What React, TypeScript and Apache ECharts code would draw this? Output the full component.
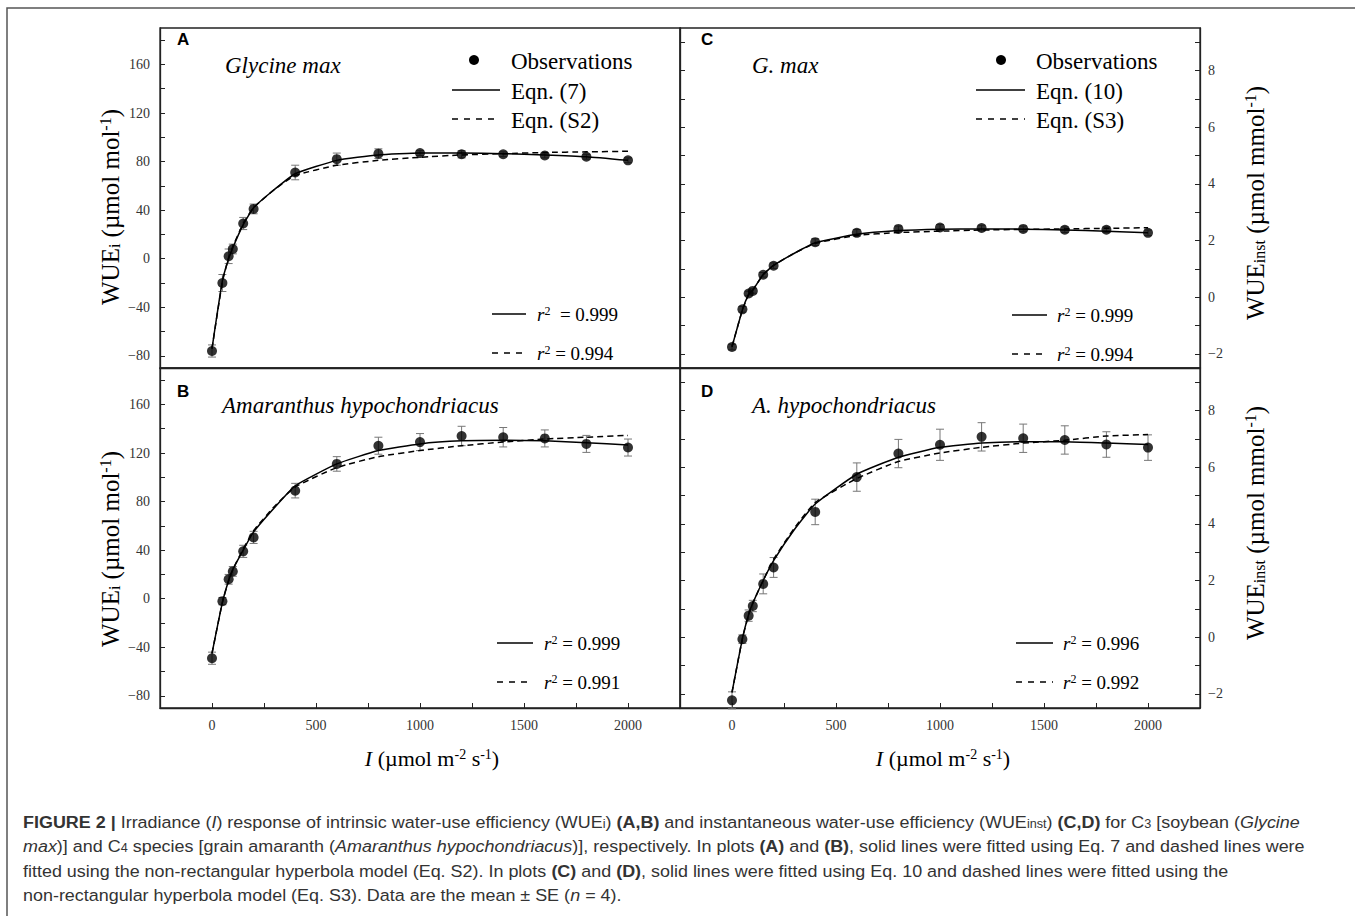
import React, { useEffect, useRef } from "react";
import * as echarts from "echarts";

// ---------- data ----------
const irradiance = [0, 50, 80, 100, 150, 200, 400, 600, 800, 1000, 1200, 1400, 1600, 1800, 2000];
const fitIrradiance = [0, 50, 80, 100, 150, 200, 300, 400, 600, 800, 1000, 1200, 1400, 1600, 1800, 2000];

// Panel A: WUEi, Glycine max
const obsA = [-76, -20, 2, 8, 29, 41, 71, 82, 86.5, 87, 86, 86, 85, 84, 81];
const seA = [5, 7, 6, 4, 5, 4, 6, 5, 4, 2, 3, 2, 2, 2, 2];
const eq7A = [-74, -18, 0, 9, 28, 42, 57, 70, 81, 85.5, 87, 87, 86.5, 85.5, 84, 81];
const s2A = [-74, -19, 1, 10, 29, 42, 57, 68.5, 77, 81, 83.5, 85.5, 86.5, 87.5, 88, 88.5];

// Panel B: WUEi, Amaranthus hypochondriacus
const obsB = [-49, -2, 16, 22.5, 39, 50.5, 89, 111, 126, 129, 134, 133, 132, 127.5, 124.5];
const seB = [5, 3, 4, 4, 5, 5, 6, 6, 7, 7, 8, 8, 7, 7, 7];
const eq7B = [-45, -3, 15, 24, 40, 55, 75, 93, 111, 122, 127.5, 130, 130.5, 130, 128.5, 126.5];
const s2B = [-45, -3, 15, 24, 41, 56, 76, 92, 108, 117, 122, 126, 129, 131.5, 133, 134.5];

// Panel C: WUEinst, G. max
const obsC = [-1.76, -0.43, 0.13, 0.22, 0.79, 1.11, 1.94, 2.27, 2.41, 2.46, 2.44, 2.41, 2.38, 2.38, 2.27];
const seC = [0.1, 0.1, 0.08, 0.08, 0.08, 0.1, 0.12, 0.12, 0.1, 0.1, 0.1, 0.1, 0.1, 0.1, 0.1];
const eq10C = [-1.75, -0.45, 0.1, 0.25, 0.8, 1.12, 1.55, 1.92, 2.22, 2.35, 2.4, 2.41, 2.4, 2.37, 2.33, 2.27];
const s3C = [-1.75, -0.45, 0.1, 0.25, 0.8, 1.12, 1.55, 1.9, 2.18, 2.28, 2.33, 2.37, 2.39, 2.41, 2.43, 2.45];

// Panel D: WUEinst, A. hypochondriacus
const obsD = [-2.23, -0.07, 0.76, 1.1, 1.88, 2.46, 4.42, 5.65, 6.48, 6.79, 7.07, 7.02, 6.96, 6.8, 6.69];
const seD = [0.3, 0.15, 0.2, 0.2, 0.35, 0.35, 0.45, 0.5, 0.5, 0.55, 0.5, 0.5, 0.5, 0.45, 0.45];
const eq10D = [-1.95, -0.05, 0.8, 1.2, 2.0, 2.7, 3.8, 4.7, 5.75, 6.35, 6.7, 6.85, 6.9, 6.9, 6.85, 6.8];
const s3D = [-1.95, -0.05, 0.8, 1.2, 2.0, 2.75, 3.85, 4.75, 5.6, 6.2, 6.5, 6.7, 6.85, 6.95, 7.1, 7.15];

// tick values
const xTickValues = [0, 250, 500, 750, 1000, 1250, 1500, 1750, 2000];
const xLabelValues = [0, 500, 1000, 1500, 2000];
const wueiTickValues = [-80, -60, -40, -20, 0, 20, 40, 60, 80, 100, 120, 140, 160, 180];
const wueiLabelValues = [-80, -40, 0, 40, 80, 120, 160];
const wueInstTickValues = [-2, -1, 0, 1, 2, 3, 4, 5, 6, 7, 8, 9];
const wueInstLabelValues = [-2, 0, 2, 4, 6, 8];

const serif = '"Liberation Serif", "Times New Roman", serif';
const sans = '"Liberation Sans", Arial, sans-serif';
const axisColor = "#222";

function fmt(v: number) {
  return String(v).replace("-", "\u2212");
}

function xAxisDef(grid: number, showLabels: boolean) {
  return {
    type: "value",
    gridIndex: grid,
    min: -250,
    max: 2250,
    axisLine: { show: true, onZero: false, lineStyle: { color: axisColor, width: 1.3 } },
    axisTick: {
      show: showLabels,
      inside: true,
      length: 5,
      customValues: xTickValues,
      lineStyle: { color: axisColor, width: 1 },
    },
    axisLabel: {
      show: showLabels,
      customValues: xLabelValues,
      margin: 10,
      fontFamily: serif,
      fontSize: 14,
      color: "#333",
      formatter: (v: number) => String(v),
    },
    splitLine: { show: false },
  };
}

function yAxisDef(
  grid: number,
  min: number,
  max: number,
  ticks: number[],
  labels: number[],
  position: string,
  showLabels: boolean
) {
  return {
    type: "value",
    gridIndex: grid,
    min,
    max,
    position,
    axisLine: { show: true, onZero: false, lineStyle: { color: axisColor, width: 1.3 } },
    axisTick: {
      show: true,
      inside: true,
      length: 5,
      customValues: ticks,
      lineStyle: { color: axisColor, width: 1 },
    },
    axisLabel: {
      show: showLabels,
      customValues: labels,
      margin: position === "left" ? 10 : 8,
      fontFamily: serif,
      fontSize: 14,
      color: "#333",
      formatter: (v: number) => fmt(v),
    },
    splitLine: { show: false },
  };
}

function errorSeries(xi: number, yi: number, obs: number[], se: number[]) {
  return {
    type: "custom",
    xAxisIndex: xi,
    yAxisIndex: yi,
    z: 2,
    encode: { x: 0, y: 1 },
    data: irradiance.map((x, i) => [x, obs[i], se[i]]),
    renderItem: (params: any, api: any) => {
      const x = api.value(0);
      const y = api.value(1);
      const e = api.value(2);
      const top = api.coord([x, y + e]);
      const bot = api.coord([x, y - e]);
      const cap = 4;
      const st = { stroke: "#777", lineWidth: 1 };
      return {
        type: "group",
        children: [
          { type: "line", shape: { x1: top[0], y1: top[1], x2: bot[0], y2: bot[1] }, style: st },
          { type: "line", shape: { x1: top[0] - cap, y1: top[1], x2: top[0] + cap, y2: top[1] }, style: st },
          { type: "line", shape: { x1: bot[0] - cap, y1: bot[1], x2: bot[0] + cap, y2: bot[1] }, style: st },
        ],
      };
    },
  };
}

function scatterSeries(xi: number, yi: number, obs: number[]) {
  return {
    type: "scatter",
    xAxisIndex: xi,
    yAxisIndex: yi,
    z: 4,
    symbol: "circle",
    symbolSize: 10,
    itemStyle: { color: "#000" },
    data: irradiance.map((x, i) => [x, obs[i]]),
  };
}

function fitSeries(xi: number, yi: number, vals: number[], dashed: boolean) {
  return {
    type: "line",
    xAxisIndex: xi,
    yAxisIndex: yi,
    z: 3,
    showSymbol: false,
    symbol: "none",
    smooth: 0.15,
    lineStyle: { color: "#000", width: 1.5, type: dashed ? [6, 4] : "solid" },
    data: fitIrradiance.map((x, i) => [x, vals[i]]),
  };
}

// ---------- graphic helpers ----------
function txt(x: number, y: number, text: string, style: any, extra: any = {}) {
  return {
    type: "text",
    x,
    y,
    z: 10,
    ...extra,
    style: { text, fill: "#000", textVerticalAlign: "middle", ...style },
  };
}

function hline(x1: number, x2: number, y: number, dashed: boolean) {
  return {
    type: "line",
    z: 10,
    shape: { x1, y1: y, x2, y2: y },
    style: { stroke: "#000", lineWidth: 1.5, lineDash: dashed ? [6, 6] : null },
  };
}

const richSerif = (size: number) => ({
  ri: { fontFamily: serif, fontSize: size, fontStyle: "italic", fill: "#000" },
  n: { fontFamily: serif, fontSize: size, fill: "#000" },
  sup: { fontFamily: serif, fontSize: Math.round(size * 0.62), fill: "#000", verticalAlign: "top" },
  sub: { fontFamily: serif, fontSize: Math.round(size * 0.62), fill: "#000", verticalAlign: "bottom" },
});

function legendBlock(dotX: number, textX: number, lineX1: number, lineX2: number, eqLabel: string, sLabel: string) {
  const st = { fontFamily: serif, fontSize: 23 };
  return [
    { type: "circle", z: 10, shape: { cx: dotX, cy: 60, r: 5 }, style: { fill: "#000" } },
    txt(textX, 61, "Observations", st),
    hline(lineX1, lineX2, 90, false),
    txt(textX, 91, eqLabel, st),
    hline(lineX1, lineX2, 119, true),
    txt(textX, 120, sLabel, st),
  ];
}

function r2Block(lineX1: number, lineX2: number, textX: number, y1: number, y2: number, v1: string, v2: string, gap1 = " ") {
  const st = { fontFamily: serif, fontSize: 19, rich: richSerif(19) };
  return [
    hline(lineX1, lineX2, y1, false),
    txt(textX, y1, `{ri|r}{sup|2}{n|${gap1}= ${v1}}`, st),
    hline(lineX1, lineX2, y2, true),
    txt(textX, y2, `{ri|r}{sup|2}{n| = ${v2}}`, st),
  ];
}

const panelLetter = (x: number, y: number, l: string) =>
  txt(x, y, l, { fontFamily: sans, fontSize: 17, fontWeight: "bold" });
const species = (x: number, y: number, s: string) =>
  txt(x, y, s, { fontFamily: serif, fontSize: 23, fontStyle: "italic" });

const yTitleRich = richSerif(25);
const wueiTitle = "{n|WUE}{sub|i}{n| (\u00b5mol mol}{sup|-1}{n|)}";
const wueInstTitle = "{n|WUE}{sub|inst}{n| (\u00b5mol mmol}{sup|-1}{n|)}";
const xTitle = "{ri|I}{n| (\u00b5mol m}{sup|-2}{n| s}{sup|-1}{n|)}";

const capSize = 17;
const capRich = {
  b: { fontFamily: sans, fontSize: capSize, fontWeight: "bold", fill: "#333" },
  i: { fontFamily: sans, fontSize: capSize, fontStyle: "italic", fill: "#333" },
  sub: { fontFamily: sans, fontSize: 12, fill: "#333", verticalAlign: "bottom" },
};
const captionLines = [
  "{b|FIGURE 2 |} Irradiance ({i|I}) response of intrinsic water-use efficiency (WUE{sub|i}) {b|(A,B)} and instantaneous water-use efficiency (WUE{sub|inst}) {b|(C,D)} for C{sub|3} [soybean ({i|Glycine}",
  "{i|max})] and C{sub|4} species [grain amaranth ({i|Amaranthus hypochondriacus})], respectively. In plots {b|(A)} and {b|(B)}, solid lines were fitted using Eq. 7 and dashed lines were",
  "fitted using the non-rectangular hyperbola model (Eq. S2). In plots {b|(C)} and {b|(D)}, solid lines were fitted using Eq. 10 and dashed lines were fitted using the",
  "non-rectangular hyperbola model (Eq. S3). Data are the mean \u00b1 SE ({i|n} = 4).",
];
const captionY = [822, 846, 871, 895];

export default function App() {
  const ref = useRef<HTMLDivElement>(null);
  useEffect(() => {
    if (!ref.current) return;
    const chart = echarts.init(ref.current, undefined, { renderer: "svg" });
    const gridStyle = { show: true, borderColor: axisColor, borderWidth: 1.3, backgroundColor: "transparent" };
    const option: any = {
      animation: false,
      backgroundColor: "#fff",
      grid: [
        { left: 160, top: 28, width: 520, height: 340, ...gridStyle },
        { left: 160, top: 368, width: 520, height: 340, ...gridStyle },
        { left: 680, top: 28, width: 520, height: 340, ...gridStyle },
        { left: 680, top: 368, width: 520, height: 340, ...gridStyle },
      ],
      xAxis: [xAxisDef(0, false), xAxisDef(1, true), xAxisDef(2, false), xAxisDef(3, true)],
      yAxis: [
        yAxisDef(0, -90, 190, wueiTickValues, wueiLabelValues, "left", true),
        yAxisDef(1, -90, 190, wueiTickValues, wueiLabelValues, "left", true),
        yAxisDef(2, -2.5, 9.5, wueInstTickValues, wueInstLabelValues, "right", true),
        yAxisDef(3, -2.5, 9.5, wueInstTickValues, wueInstLabelValues, "right", true),
        yAxisDef(2, -2.5, 9.5, wueInstTickValues, wueInstLabelValues, "left", false),
        yAxisDef(3, -2.5, 9.5, wueInstTickValues, wueInstLabelValues, "left", false),
      ],
      series: [
        errorSeries(0, 0, obsA, seA),
        fitSeries(0, 0, eq7A, false),
        fitSeries(0, 0, s2A, true),
        scatterSeries(0, 0, obsA),
        errorSeries(1, 1, obsB, seB),
        fitSeries(1, 1, eq7B, false),
        fitSeries(1, 1, s2B, true),
        scatterSeries(1, 1, obsB),
        errorSeries(2, 2, obsC, seC),
        fitSeries(2, 2, eq10C, false),
        fitSeries(2, 2, s3C, true),
        scatterSeries(2, 2, obsC),
        errorSeries(3, 3, obsD, seD),
        fitSeries(3, 3, eq10D, false),
        fitSeries(3, 3, s3D, true),
        scatterSeries(3, 3, obsD),
      ],
      graphic: [
        {
          type: "rect",
          z: 0,
          shape: { x: 7, y: 8, width: 1370, height: 930 },
          style: { fill: "none", stroke: "#555", lineWidth: 1.5 },
        },
        panelLetter(177, 39, "A"),
        panelLetter(701, 39, "C"),
        panelLetter(177, 391, "B"),
        panelLetter(701, 391, "D"),
        species(225, 65, "Glycine max"),
        species(752, 65, "G. max"),
        species(222, 405, "Amaranthus hypochondriacus"),
        species(752, 405, "A. hypochondriacus"),
        ...legendBlock(474, 511, 452, 500, "Eqn. (7)", "Eqn. (S2)"),
        ...legendBlock(1001, 1036, 976, 1025, "Eqn. (10)", "Eqn. (S3)"),
        ...r2Block(492, 526, 537, 314, 353, "0.999", "0.994", "  "),
        ...r2Block(1012, 1047, 1057, 315, 354, "0.999", "0.994"),
        ...r2Block(497, 533, 544, 643, 682, "0.999", "0.991"),
        ...r2Block(1016, 1053, 1063, 643, 682, "0.996", "0.992"),
        txt(110, 207, wueiTitle, { fontFamily: serif, fontSize: 25, textAlign: "center", rich: yTitleRich }, { rotation: Math.PI / 2 }),
        txt(110, 549, wueiTitle, { fontFamily: serif, fontSize: 25, textAlign: "center", rich: yTitleRich }, { rotation: Math.PI / 2 }),
        txt(1255, 203, wueInstTitle, { fontFamily: serif, fontSize: 25, textAlign: "center", rich: yTitleRich }, { rotation: Math.PI / 2 }),
        txt(1255, 523, wueInstTitle, { fontFamily: serif, fontSize: 25, textAlign: "center", rich: yTitleRich }, { rotation: Math.PI / 2 }),
        txt(432, 758, xTitle, { fontFamily: serif, fontSize: 22, textAlign: "center", rich: richSerif(22) }),
        txt(943, 758, xTitle, { fontFamily: serif, fontSize: 22, textAlign: "center", rich: richSerif(22) }),
        ...captionLines.map((line, i) =>
          txt(
            23,
            captionY[i],
            line,
            {
              fontFamily: sans,
              fontSize: capSize,
              fill: "#333",
              textAlign: "left",
              rich: capRich,
            },
            { scaleX: 1.055 }
          )
        ),
      ],
    };
    chart.setOption(option);
    return () => chart.dispose();
  }, []);
  return (
    <div
      ref={ref}
      style={{ position: "absolute", left: 0, top: 0, width: 1355, height: 916, background: "#fff" }}
    />
  );
}
